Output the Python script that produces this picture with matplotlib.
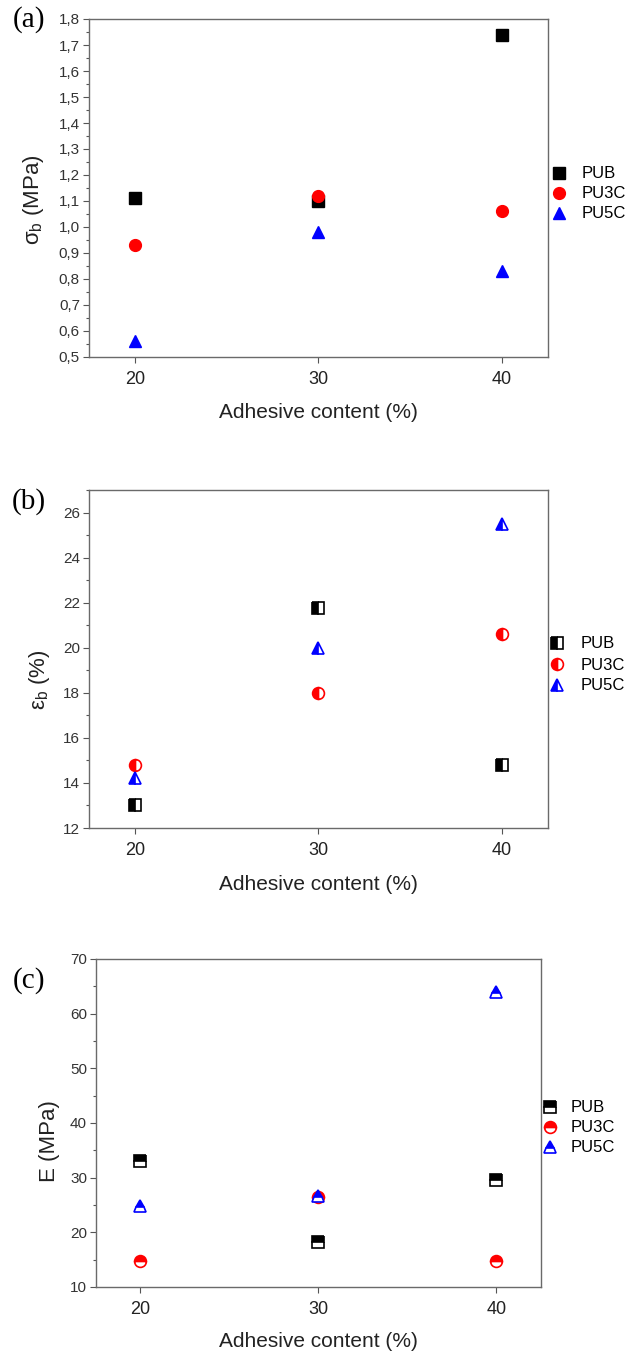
import matplotlib
matplotlib.use("Agg")
import matplotlib.pyplot as plt
from matplotlib.ticker import MultipleLocator, FuncFormatter

plt.rcParams['font.family'] = ['Liberation Sans', 'DejaVu Sans']
plt.rcParams['mathtext.fontset'] = 'custom'
plt.rcParams['mathtext.rm'] = 'Liberation Sans'
plt.rcParams['mathtext.it'] = 'Liberation Sans'

# ---- data ----
adhesive = [20, 30, 40]
series_names = ['PUB', 'PU3C', 'PU5C']

sigma_pub = [1.11, 1.10, 1.74]
sigma_pu3c = [0.93, 1.12, 1.06]
sigma_pu5c = [0.56, 0.98, 0.83]

eps_pub = [13.0, 21.75, 14.8]
eps_pu3c = [14.8, 18.0, 20.6]
eps_pu5c = [14.2, 20.0, 25.5]

mod_pub = [33.0, 18.3, 29.6]
mod_pu3c = [14.8, 26.4, 14.8]
mod_pu5c = [24.9, 26.6, 64.0]

x_ticks = [20, 30, 40]
panel_labels = ['(a)', '(b)', '(c)']
y_labels = [r'$\mathregular{\sigma_b}$ (MPa)', r'$\mathregular{\varepsilon_b}$ (%)', 'E (MPa)']
x_label = 'Adhesive content (%)'

W, H = 629, 1353
fig = plt.figure(figsize=(W / 100, H / 100), dpi=100)


def px_axes(left, top, right, bottom):
    return fig.add_axes([left / W, 1 - bottom / H, (right - left) / W, (bottom - top) / H])


colors = ['black', '#ff0000', '#0000ff']
markers = ['s', 'o', '^']
msizes = [8, 8.5, 9]

spine_col = '#6a6a6a'
tick_col = '#555555'
lab_col = '#333333'


def style(ax, ylim, ymaj, ymin, yfmt, ylab, ylab_xy, xlab_y, plabel, plabel_xy):
    ax.set_xlim(17.5, 42.5)
    ax.set_ylim(*ylim)
    ax.set_xticks(x_ticks)
    ax.yaxis.set_major_locator(MultipleLocator(ymaj))
    ax.yaxis.set_minor_locator(MultipleLocator(ymin))
    ax.yaxis.set_major_formatter(FuncFormatter(yfmt))
    for s in ax.spines.values():
        s.set_color(spine_col)
        s.set_linewidth(1.0)
    ax.tick_params(axis='x', which='major', direction='out', length=4, width=0.8,
                   color=tick_col, labelsize=13, labelcolor='#222222', pad=6)
    ax.tick_params(axis='y', which='major', direction='out', length=4, width=0.8,
                   color=tick_col, labelsize=11, labelcolor=lab_col, pad=2.5)
    ax.tick_params(axis='y', which='minor', direction='out', length=2.2, width=0.8,
                   color=tick_col)
    ax.set_ylabel(ylab, fontsize=16, color='#222222')
    ax.yaxis.set_label_coords(*ylab_xy)
    ax.set_xlabel(x_label, fontsize=15, color='#222222')
    ax.xaxis.set_label_coords(0.5, xlab_y)
    fig.text(plabel_xy[0] / W, 1 - plabel_xy[1] / H, plabel, fontsize=21,
             family='Liberation Serif', ha='center', va='center')


def add_legend(ax, mx, cy, pad, spacing):
    fs = 12
    handle_px = 1.0 * fs * 100 / 72
    anchor_x = mx - handle_px / 2
    ax.legend(loc='center left', bbox_to_anchor=(anchor_x / W, 1 - cy / H),
              bbox_transform=fig.transFigure, frameon=False, fontsize=fs,
              borderpad=0, borderaxespad=0, handlelength=1.0, handletextpad=pad,
              labelspacing=spacing, numpoints=1)


# ---- (a) ----
ax1 = px_axes(89, 19, 548, 357)
for ys, name, c, m, ms in zip([sigma_pub, sigma_pu3c, sigma_pu5c], series_names, colors, markers, msizes):
    ax1.plot(adhesive, ys, linestyle='none', marker=m, markersize=ms, color=c,
             markeredgecolor=c, label=name)
style(ax1, (0.5, 1.8), 0.1, 0.05, lambda v, p: f"{v:.1f}".replace('.', ','),
      y_labels[0], (-0.094, 0.465), -0.135, panel_labels[0], (29, 20))
add_legend(ax1, 559, 194, 0.88, 0.3)

# ---- (b) ----
ax2 = px_axes(89, 490, 548, 828)
for ys, name, c, m, ms in zip([eps_pub, eps_pu3c, eps_pu5c], series_names, colors, markers, msizes):
    ax2.plot(adhesive, ys, linestyle='none', marker=m, markersize=ms, color=c,
             markeredgecolor=c, markerfacecoloralt='white', fillstyle='left',
             markeredgewidth=1.2, label=name)
style(ax2, (12, 27), 2, 1, lambda v, p: f"{v:.0f}",
      y_labels[1], (-0.081, 0.44), -0.139, panel_labels[1], (29, 502))
add_legend(ax2, 557, 665, 0.94, 0.36)

# ---- (c) ----
ax3 = px_axes(96, 959, 541, 1287)
for ys, name, c, m, ms in zip([mod_pub, mod_pu3c, mod_pu5c], series_names, colors, markers, msizes):
    ax3.plot(adhesive, ys, linestyle='none', marker=m, markersize=ms, color=c,
             markeredgecolor=c, markerfacecoloralt='white', fillstyle='top',
             markeredgewidth=1.2, label=name)
style(ax3, (10, 70), 10, 5, lambda v, p: f"{v:.0f}",
      y_labels[2], (-0.081, 0.445), -0.137, panel_labels[2], (29, 981))
add_legend(ax3, 550, 1128, 0.76, 0.3)

fig.savefig('out.png', dpi=100)
